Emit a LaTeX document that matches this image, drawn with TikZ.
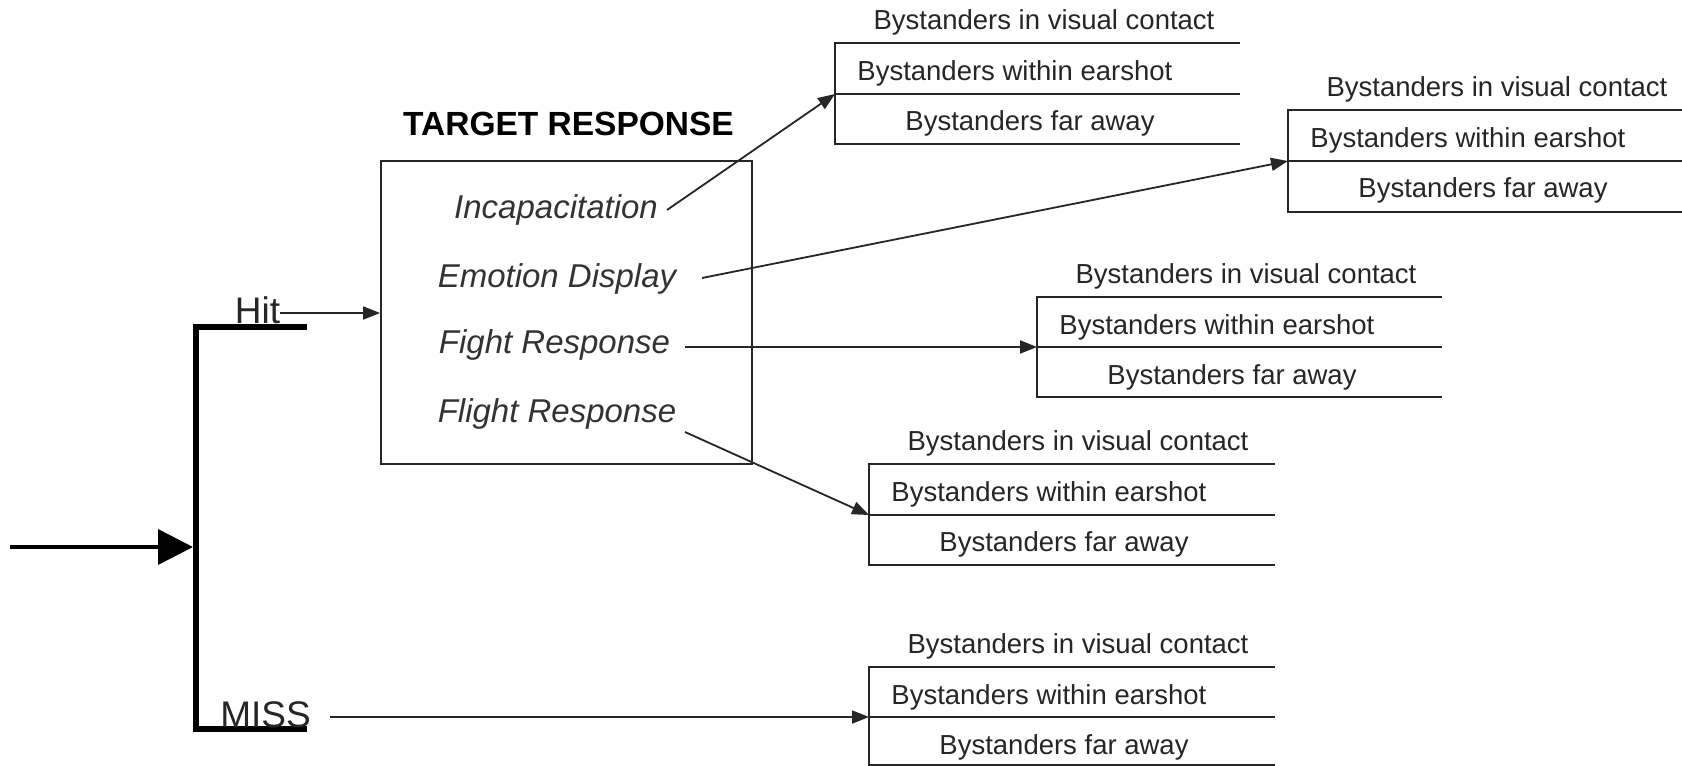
\documentclass[tikz,border=0pt]{standalone}
\usepackage{fontspec}
\setmainfont{Liberation Sans}
\usetikzlibrary{arrows.meta}
\tikzset{
  boxline/.style={draw=black!85, line width=0.9pt},
  byst/.style={inner sep=0pt, font=\fontsize{13.75pt}{16pt}\selectfont, text=black!85},
  resp/.style={inner sep=0pt, font=\fontsize{16.5pt}{19pt}\selectfont\itshape, text=black!80},
  branch/.style={inner sep=0pt, font=\fontsize{18.5pt}{21pt}\selectfont, text=black!85},
  conn/.style={draw=black!85, line width=0.9pt, -{Triangle[length=8.5pt,width=6.5pt]}},
}
\newcommand\bystgroup[6]{%
  \coordinate (#1t) at (#2,#3);
  \coordinate (#1m) at (#2,#4);
  \coordinate (#1b) at (#2,#5);
  \draw[boxline] (#6,#3) -- (#1t) -- (#1b) -- (#6,#5);
  \draw[boxline] (#1m) -- (#6,#4);
  \node[byst, anchor=base] (#1v) at (#2+209,#3-14) {Bystanders in visual contact};
  \node[byst, anchor=base west] (#1w) at (#2+22,#3+37) {Bystanders within earshot};
  \node[byst, anchor=base] (#1f) at (#2+195,#3+87) {Bystanders far away};
}
\begin{document}
\begin{tikzpicture}[x=0.5pt,y=-0.5pt]
\fill[white] (0,0) rectangle (1682,766);
\useasboundingbox (0,0) rectangle (1682,766);

% bystander groups
\bystgroup{ga}{835}{43}{94}{144}{1240}
\bystgroup{gb}{1288}{110}{161}{212}{1682}
\bystgroup{gc}{1037}{297}{347}{397}{1442}
\bystgroup{gd}{869}{464}{515}{565}{1275}
\bystgroup{ge}{869}{667}{717}{765}{1275}

% target response box
\node[inner sep=0pt, font=\fontsize{16.75pt}{19pt}\selectfont\bfseries, anchor=base] (title) at (568.5,135) {TARGET RESPONSE};
\node[draw=black!85, line width=0.9pt, minimum width=185.5pt, minimum height=151.5pt, inner sep=0pt] (box) at (566.5,312.5) {};
\node[resp, anchor=base] (inc) at (556,218) {Incapacitation};
\node[resp, anchor=base] (emo) at (557,287) {Emotion Display};
\node[resp, anchor=base] (fig) at (554.5,353) {Fight Response};
\node[resp, anchor=base] (fli) at (557,422) {Flight Response};

\coordinate (incS) at (667,210);
\coordinate (emoS) at (702,278);
\coordinate (figS) at (685,347);
\coordinate (fliS) at (685,432);
\draw[conn] (incS) -- (gam);
\draw[conn] (emoS) -- (gbm);
\draw[conn] (figS) -- (gcm);
\draw[conn] (fliS) -- (gdm);

% input and branch bracket
\coordinate (inS) at (10,547);
\coordinate (junc) at (193,547);
\draw[black, line width=1.8pt, -{Triangle[length=17.5pt,width=17.5pt]}] (inS) -- (junc);
\coordinate (hitR) at (307,326.5);
\coordinate (missR) at (307,728.5);
\draw[black, line width=3pt, line join=miter] (hitR) -- (195.5,326.5) -- (195.5,728.5) -- (missR);

\node[branch, anchor=base] (hit) at (257.5,323) {Hit};
\node[branch, anchor=base] (miss) at (265.5,727) {MISS};

\coordinate (hitS) at (280,313);
\draw[conn] (hitS) -- (hitS -| box.west);
\coordinate (missS) at (330,717);
\draw[conn] (missS) -- (gem);
\end{tikzpicture}
\end{document}
